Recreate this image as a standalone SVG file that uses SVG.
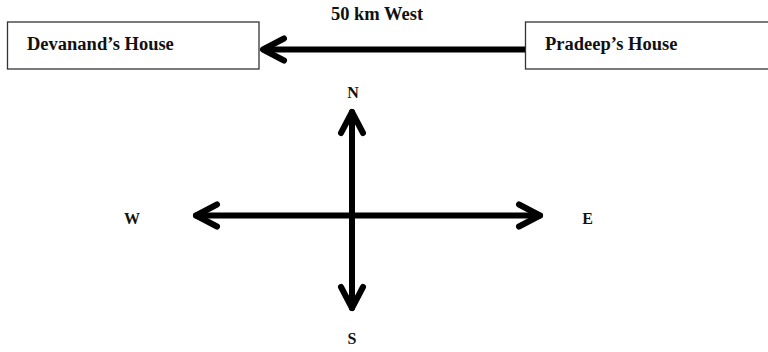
<svg xmlns="http://www.w3.org/2000/svg" width="768" height="352" viewBox="0 0 768 352">
<style>
.box{fill:#fff;stroke:#333;stroke-width:1.3}
.t{font-family:"Liberation Serif","Times New Roman",serif;font-weight:bold;font-size:18.5px;fill:#111}
.d{font-family:"Liberation Serif","Times New Roman",serif;font-weight:bold;font-size:16px;fill:#111}
.c{stroke:#000;stroke-width:6;fill:none;stroke-linecap:round}
.ah{stroke:#000;stroke-width:6;fill:none;stroke-linecap:round;stroke-linejoin:round}
</style>
<defs>
<marker id="arr" markerUnits="userSpaceOnUse" viewBox="-28 -16 32 32" refX="0" refY="0" markerWidth="32" markerHeight="32" orient="auto-start-reverse">
<path class="ah" d="M-21,-11 L0,0 L-21,11"/>
</marker>
</defs>
<rect width="768" height="352" fill="#fff"/>
<g id="devanand">
<rect class="box" x="7.5" y="22" width="251.5" height="47"/>
<text class="t" x="27" y="50">Devanand’s House</text>
</g>
<g id="pradeep">
<rect class="box" x="525.5" y="22" width="250" height="47"/>
<text class="t" x="545" y="50">Pradeep’s House</text>
</g>
<g id="labels">
<text class="t" x="377" y="20" text-anchor="middle">50 km West</text>
<text class="d" x="353" y="98" text-anchor="middle">N</text>
<text class="d" x="352" y="344" text-anchor="middle">S</text>
<text class="d" x="132" y="224" text-anchor="middle">W</text>
<text class="d" x="587.5" y="224" text-anchor="middle">E</text>
</g>
<g id="connectors">
<line x1="525" y1="49.5" x2="263" y2="49.5" style="stroke:#000;stroke-width:6" marker-end="url(#arr)"/>
<line class="c" x1="352" y1="308" x2="352" y2="112" marker-start="url(#arr)" marker-end="url(#arr)"/>
<line class="c" x1="196" y1="215.5" x2="540" y2="215.5" marker-start="url(#arr)" marker-end="url(#arr)"/>
</g>
</svg>
